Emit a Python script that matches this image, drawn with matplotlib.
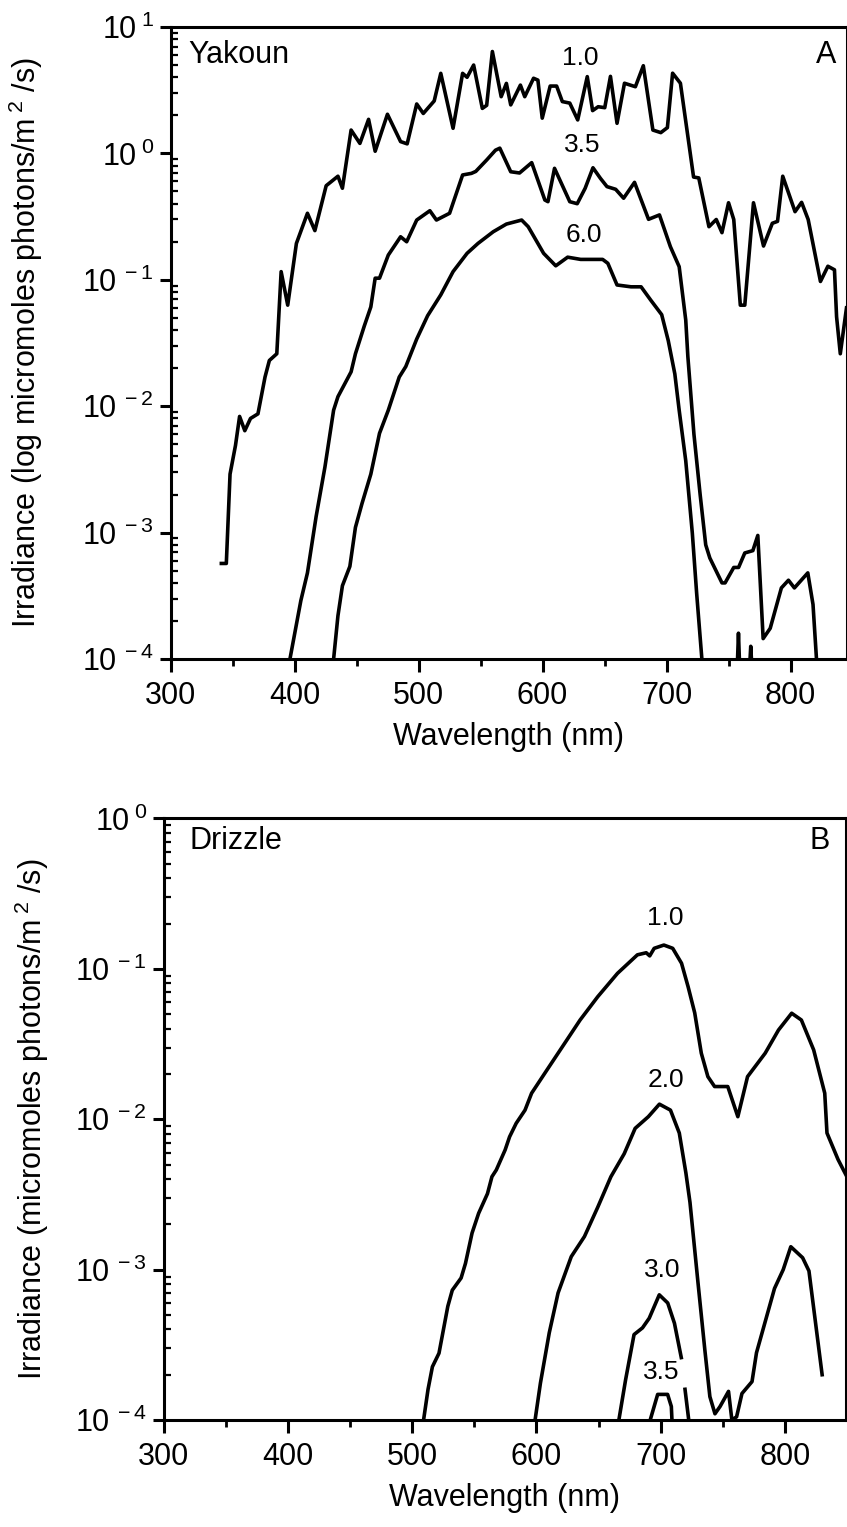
import numpy as np
import matplotlib
matplotlib.use("Agg")
import matplotlib.pyplot as plt
from matplotlib.ticker import LogLocator, MultipleLocator, NullFormatter

plt.rcParams["font.family"] = ["Liberation Sans", "DejaVu Sans"]
plt.rcParams["mathtext.fontset"] = "custom"
plt.rcParams["mathtext.rm"] = "Liberation Sans"
plt.rcParams["mathtext.it"] = "Liberation Sans:italic"
plt.rcParams["mathtext.bf"] = "Liberation Sans:bold"

nan = np.nan

# ---- Panel A: Yakoun, depths 1.0 / 3.5 / 6.0 m ----
yak_wl_10 = [341, 345, 348, 352.4, 355.7, 359.9, 364.5, 370.5, 376.2, 379.7, 385.7,
             389.2, 394.5, 401.5, 410.4, 416.4, 425.5, 435, 438.6, 445.6, 452.7,
             459.7, 465, 474.9, 485.5, 490.8, 498.5, 503.8, 512.6, 517.9, 527.8,
             535.5, 539.1, 544.4, 551.4, 554.9, 559.5, 566.6, 570.8, 574.3, 582.1,
             585.6, 592.7, 596.2, 599.7, 606.1, 611.3, 615.9, 621.9, 628.3, 636,
             640.3, 644.8, 650.1, 654.7, 660, 666, 674.8, 681.2, 688.9, 695.3,
             700.6, 704.8, 711.1, 721.7, 725.9, 734.1, 740, 744.6, 749.9, 754.1,
             759.4, 763, 770, 778.1, 785.2, 789.4, 793.6, 803.5, 808.8, 814.1,
             824, 830, 835.3, 837, 840, 845]
yak_irr_10 = [5.7e-4, 5.7e-4, 2.9e-3, 4.9e-3, 8.3e-3, 6.4e-3, 8.0e-3, 8.7e-3, 0.017, 0.023, 0.026,
              0.116, 0.063, 0.194, 0.336, 0.245, 0.555, 0.66, 0.53, 1.53, 1.2,
              1.86, 1.04, 2.04, 1.24, 1.19, 2.46, 2.07, 2.6, 4.3, 1.58,
              4.3, 4.0, 5.0, 2.27, 2.4, 6.4, 2.81, 3.58, 2.42, 3.47,
              2.81, 3.93, 3.8, 1.9, 3.41, 3.41, 2.57, 2.5, 1.84, 4.05,
              2.18, 2.34, 2.3, 4.07, 1.73, 3.59, 3.37, 4.94, 1.53, 1.46,
              1.6, 4.31, 3.59, 0.65, 0.64, 0.263, 0.30, 0.236, 0.407, 0.30,
              0.063, 0.063, 0.407, 0.185, 0.28, 0.29, 0.66, 0.346, 0.41, 0.30,
              0.097, 0.128, 0.12, 0.051, 0.026, 0.06]

yak_wl_35 = [396.3, 405.1, 410.4, 417.4, 424.5, 431.5, 435, 445.6, 449.1, 456.2, 461.5,
             465, 468.5, 475.6, 485.5, 490.4, 498.5, 509.1, 514.4, 525, 535.5,
             542.6, 546.1, 554.9, 562, 565.5, 574.3, 581.4, 591.2, 601.8, 604.3,
             609.6, 621.9, 627.9, 634.3, 640.6, 646.6, 651.9, 658.9, 665.3, 674.1,
             685.4, 694.2, 703, 710.1, 715.4, 717.1, 722, 727, 731.5, 734.8,
             744.6, 747.1, 754.1, 758, 763, 769.5, 773.5, 777.8, 783.5, 792.5,
             798.2, 803, 813.8, 818, 820.8]
yak_irr_35 = [1e-4, 2.9e-4, 4.8e-4, 1.34e-3, 3.3e-3, 9.3e-3, 0.0119, 0.0187, 0.026, 0.043, 0.061,
              0.103, 0.103, 0.157, 0.219, 0.2, 0.297, 0.352, 0.297, 0.336, 0.675,
              0.695, 0.72, 0.887, 1.06, 1.1, 0.716, 0.70, 0.845, 0.428, 0.415,
              0.762, 0.415, 0.40, 0.53, 0.77, 0.635, 0.546, 0.52, 0.442, 0.59,
              0.301, 0.326, 0.183, 0.127, 0.048, 0.0247, 6e-3, 2e-3, 8e-4, 6.3e-4,
              4e-4, 4e-4, 5.3e-4, 5.3e-4, 6.9e-4, 7.2e-4, 9.5e-4, 1.45e-4, 1.75e-4, 3.65e-4,
              4.2e-4, 3.65e-4, 4.8e-4, 2.7e-4, 1e-4]

yak_wl_60 = [431.5, 435, 438.6, 444.6, 449.1, 454.4, 461.5, 468.5, 475.6, 484.4, 489.7,
             498.5, 507.3, 517.9, 527.8, 539.1, 547.9, 560.2, 570.8, 583.1, 588.4,
             600.8, 610.6, 620.2, 630.7, 648.4, 652.6, 660, 671.3, 679.4, 687.2,
             696, 701.3, 706.6, 710.1, 715.4, 720.7, 724.2, 728.4,
             nan, 757.0, 757.9, 758.8, nan, 767.0, 767.8, 768.6]
yak_irr_60 = [1e-4, 2.2e-4, 3.8e-4, 5.4e-4, 1.1e-3, 1.7e-3, 2.9e-3, 6.1e-3, 9.3e-3, 0.017, 0.0206,
              0.034, 0.052, 0.076, 0.116, 0.162, 0.194, 0.24, 0.276, 0.297, 0.263,
              0.162, 0.129, 0.151, 0.145, 0.145, 0.135, 0.091, 0.088, 0.088, 0.069,
              0.053, 0.033, 0.018, 9.3e-3, 3.7e-3, 9.9e-4, 3.3e-4, 1e-4,
              nan, 9e-5, 1.6e-4, 9e-5, nan, 9e-5, 1.26e-4, 9e-5]

# ---- Panel B: Drizzle, depths 1.0 / 2.0 / 3.0 / 3.5 m ----
dri_wl_10 = [509.2, 512.8, 516.3, 521.6, 528.7, 532.3, 539.4, 542.9, 548.2, 553.5, 560.6,
             564.2, 567.7, 574.8, 578.4, 583.7, 590.8, 596.1, 608.5, 624.5, 635.1,
             649.3, 665.2, 681.2, 688.3, 691.1, 694.7, 702.5, 709.6, 716.7, 722,
             727.3, 732.6, 737.9, 743.3, 753.9, 762, 769.8, 784, 794.7, 805.3,
             813.1, 823, 831.9, 833.7, 842.6, 850.7]
dri_irr_10 = [1e-4, 1.6e-4, 2.26e-4, 2.78e-4, 5.7e-4, 7.3e-4, 8.8e-4, 1.1e-3, 1.75e-3, 2.37e-3, 3.2e-3,
              4.15e-3, 4.6e-3, 6.25e-3, 7.65e-3, 9.4e-3, 0.0115, 0.0149, 0.0213, 0.0337, 0.0457,
              0.0653, 0.0934, 0.124, 0.128, 0.122, 0.137, 0.144, 0.137, 0.109, 0.076,
              0.051, 0.0275, 0.0192, 0.0165, 0.0165, 0.0104, 0.0192, 0.0275, 0.0392, 0.0507,
              0.0457, 0.0289, 0.0149, 8.1e-3, 5.4e-3, 4e-3]

dri_wl_20 = [598.9, 603.2, 610.3, 617.4, 628, 638.6, 649.3, 659.9, 670.6, 679.4, 690,
             698.9, 707.8, 714.9, 720.2, 723.5, 730, 735.5, 739.5, 743.6, 747.7,
             754.5, 757.2, 761, 765.3, 773.4, 777, 791.5, 798.5, 804.6, 814.1,
             819.2, 829.8]
dri_irr_20 = [1e-4, 1.76e-4, 3.8e-4, 7e-4, 1.22e-3, 1.66e-3, 2.6e-3, 4.15e-3, 5.9e-3, 8.7e-3, 0.0104,
              0.0126, 0.0115, 8.1e-3, 4.4e-3, 2.8e-3, 8.1e-4, 2.9e-4, 1.43e-4, 1.1e-4, 1.23e-4,
              1.55e-4, 1e-4, 1.05e-4, 1.5e-4, 1.8e-4, 2.8e-4, 7.5e-4, 1.0e-3, 1.42e-3, 1.2e-3,
              9.8e-4, 2e-4]

dri_wl_30 = [666.3, 671.7, 678.5, 685.3, 690.7, 698.8, 705.6, 711, 716.5, nan, 719.5, 722.5]
dri_irr_30 = [1e-4, 1.85e-4, 3.7e-4, 4.1e-4, 4.75e-4, 6.8e-4, 6e-4, 4.4e-4, 2.6e-4, nan, 1.6e-4, 1e-4]

dri_wl_35 = [691.5, 697.5, 705.5, 708.5, 709]
dri_irr_35 = [1e-4, 1.48e-4, 1.48e-4, 1.23e-4, 1e-4]

W, H = 847, 1527
fig = plt.figure(figsize=(W / 100, H / 100), dpi=100)
axA = fig.add_axes([170.5 / W, 1 - 659 / H, 676 / W, 632 / H])
axB = fig.add_axes([163.5 / W, 1 - 1420 / H, 682.5 / W, 601.5 / H])

lw = 2.6
for wl, irr in [(yak_wl_10, yak_irr_10), (yak_wl_35, yak_irr_35), (yak_wl_60, yak_irr_60)]:
    axA.plot(wl, irr, color="black", lw=lw, solid_joinstyle="round")
for wl, irr in [(dri_wl_10, dri_irr_10), (dri_wl_20, dri_irr_20),
                (dri_wl_30, dri_irr_30), (dri_wl_35, dri_irr_35)]:
    axB.plot(wl, irr, color="black", lw=lw, solid_joinstyle="round")


def style(ax, xmax, ymin_exp, ymax_exp):
    ax.set_yscale("log")
    ax.set_xlim(300, xmax)
    ax.set_ylim(10.0 ** ymin_exp, 10.0 ** ymax_exp)
    exps = list(range(ymin_exp, ymax_exp + 1))
    ax.set_yticks([10.0 ** e for e in exps])
    ax.set_yticklabels([r"10$^{\;%d}$" % e for e in exps])
    ax.yaxis.set_minor_locator(LogLocator(base=10, subs=np.arange(2, 10)))
    ax.yaxis.set_minor_formatter(NullFormatter())
    ax.set_xticks([300, 400, 500, 600, 700, 800])
    ax.xaxis.set_minor_locator(MultipleLocator(50))
    for s in ax.spines.values():
        s.set_linewidth(2.2)
    ax.tick_params(axis="x", which="major", direction="out", length=9, width=2.2,
                   labelsize=22, pad=7)
    ax.tick_params(axis="x", which="minor", direction="out", length=5, width=2.0)
    ax.tick_params(axis="y", which="major", direction="out", length=8, width=2.2,
                   labelsize=22, pad=4)
    ax.tick_params(axis="y", which="minor", direction="in", length=5, width=1.6)
    ax.set_xlabel("Wavelength (nm)", fontsize=22, labelpad=8)


style(axA, 845, -4, 1)
style(axB, 849, -4, 0)

axA.set_ylabel(r"Irradiance (log micromoles photons/m$^{\;2}$ /s)", fontsize=22)
axA.yaxis.set_label_coords(-0.185, 0.5)
axB.set_ylabel(r"Irradiance (micromoles photons/m$^{\;2}$ /s)", fontsize=22)
axB.yaxis.set_label_coords(-0.165, 0.5)

axA.text(0.027, 0.955, "Yakoun", transform=axA.transAxes, fontsize=22,
         ha="left", va="center")
axA.text(0.97, 0.955, "A", transform=axA.transAxes, fontsize=22,
         ha="center", va="center")
axB.text(0.038, 0.962, "Drizzle", transform=axB.transAxes, fontsize=22,
         ha="left", va="center")
axB.text(0.962, 0.962, "B", transform=axB.transAxes, fontsize=22,
         ha="center", va="center")

lab = dict(fontsize=19, ha="center", va="center")
axA.text(630, 5.65, "1.0", **lab)
axA.text(632, 1.16, "3.5", **lab)
axA.text(633, 0.226, "6.0", **lab)
axB.text(704, 0.217, "1.0", **lab)
axB.text(704, 0.0182, "2.0", **lab)
axB.text(701.5, 1.0e-3, "3.0", **lab)
axB.text(700.2, 2.1e-4, "3.5", **lab)

fig.savefig("out.png", dpi=100)
